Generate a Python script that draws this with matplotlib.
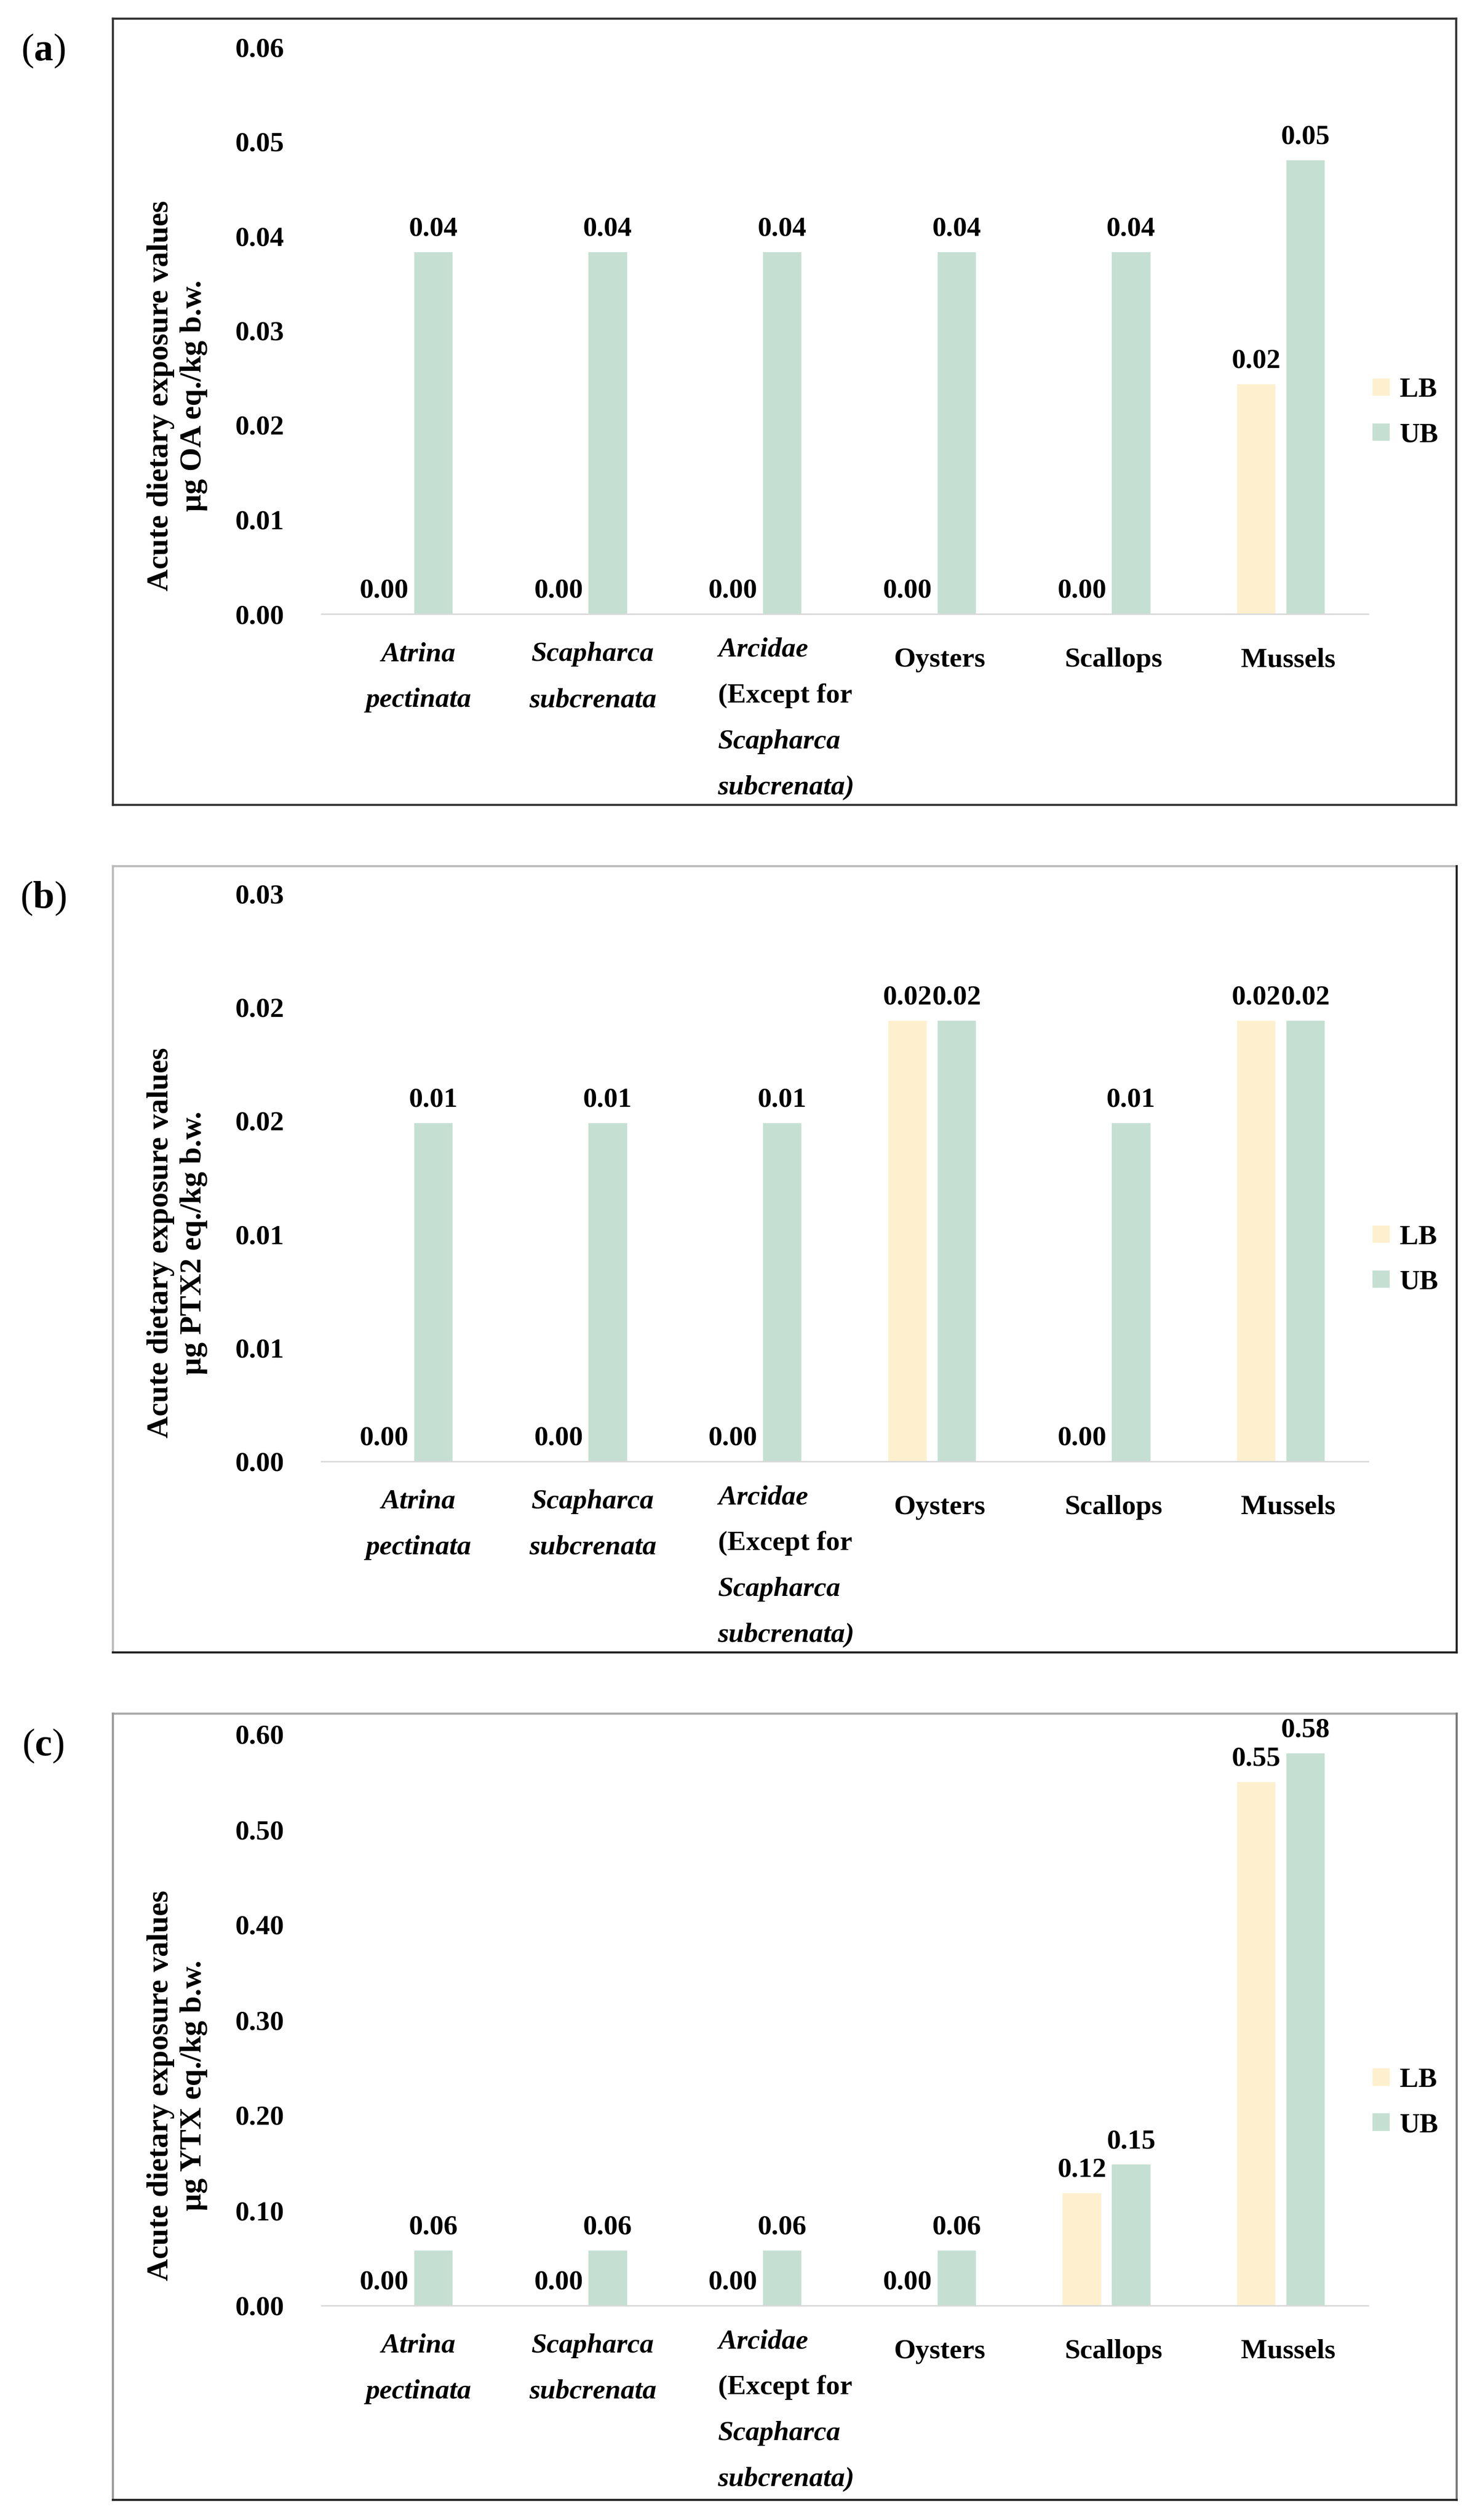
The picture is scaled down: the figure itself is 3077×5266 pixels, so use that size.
import matplotlib
matplotlib.use("Agg")
import matplotlib.pyplot as plt
from matplotlib.lines import Line2D
import numpy as np

plt.rcParams['font.family'] = ['Liberation Serif', 'DejaVu Serif']
plt.rcParams['mathtext.fontset'] = 'custom'
plt.rcParams['mathtext.rm'] = 'Liberation Serif'
plt.rcParams['mathtext.bf'] = 'Liberation Serif:bold'

# categories, each split in lines as (text, italic)
categories = ["Atrina pectinata", "Scapharca subcrenata",
              "Arcidae (Except for Scapharca subcrenata)",
              "Oysters", "Scallops", "Mussels"]
cat_lines = [
    [("Atrina", True), ("pectinata", True)],
    [("Scapharca", True), ("subcrenata", True)],
    [("Arcidae", True), ("(Except for", False), ("Scapharca", True), ("subcrenata)", True)],
    [("Oysters", False)],
    [("Scallops", False)],
    [("Mussels", False)],
]
series_names = ["LB", "UB"]

# (a) okadaic acid
oa_lb = [0.0, 0.0, 0.0, 0.0, 0.0, 0.0243]
oa_ub = [0.0383, 0.0383, 0.0383, 0.0383, 0.0383, 0.048]
oa_ticks = [0.0, 0.01, 0.02, 0.03, 0.04, 0.05, 0.06]
oa_ticklabels = ["0.00", "0.01", "0.02", "0.03", "0.04", "0.05", "0.06"]

# (b) pectenotoxin-2
ptx_lb = [0.0, 0.0, 0.0, 0.0194, 0.0, 0.0194]
ptx_ub = [0.0149, 0.0149, 0.0149, 0.0194, 0.0149, 0.0194]
ptx_ticks = [0.0, 0.005, 0.01, 0.015, 0.02, 0.025]
ptx_ticklabels = ["0.00", "0.01", "0.01", "0.02", "0.02", "0.03"]

# (c) yessotoxin
ytx_lb = [0.0, 0.0, 0.0, 0.0, 0.118, 0.55]
ytx_ub = [0.058, 0.058, 0.058, 0.058, 0.148, 0.58]
ytx_ticks = [0.0, 0.1, 0.2, 0.3, 0.4, 0.5, 0.6]
ytx_ticklabels = ["0.00", "0.10", "0.20", "0.30", "0.40", "0.50", "0.60"]

lb_color = '#FEF0CF'
ub_color = '#C5E0D3'

W, H = 3077, 5266
fig = plt.figure(figsize=(W / 100, H / 100), dpi=100)

panels = [
    dict(letter='a', lb=oa_lb, ub=oa_ub, ticks=oa_ticks, tlabels=oa_ticklabels,
         ylabel="Acute dietary exposure values\nµg OA eq./kg b.w.",
         ax_top=98, ax_bot=1283, box=(236, 39, 3044, 1682),
         edges=('#333333', '#333333', '#333333', '#333333')),
    dict(letter='b', lb=ptx_lb, ub=ptx_ub, ticks=ptx_ticks, tlabels=ptx_ticklabels,
         ylabel="Acute dietary exposure values\nµg PTX2 eq./kg b.w.",
         ax_top=1867, ax_bot=3054, box=(236, 1810, 3045, 3453),
         edges=('#BBBBBB', '#BBBBBB', '#222222', '#222222')),
    dict(letter='c', lb=ytx_lb, ub=ytx_ub, ticks=ytx_ticks, tlabels=ytx_ticklabels,
         ylabel="Acute dietary exposure values\nµg YTX eq./kg b.w.",
         ax_top=3624, ax_bot=4818, box=(236, 3581, 3045, 5224),
         edges=('#AAAAAA', '#999999', '#777777', '#222222')),
]

ax_left, ax_right = 672, 2860
fs = 42
x = np.arange(len(categories))
bw = 0.22
off = 0.141


def draw_box(left, top, right, bottom, colors, lw=3.2):
    # colors: top, left, right, bottom
    l, r = left / W, right / W
    t, b = 1 - top / H, 1 - bottom / H
    segs = [([l, r], [t, t]), ([l, l], [b, t]), ([r, r], [b, t]), ([l, r], [b, b])]
    for (xs, ys), c in zip(segs, colors):
        fig.add_artist(Line2D(xs, ys, transform=fig.transFigure, color=c, lw=lw,
                              solid_capstyle='projecting'))


for p in panels:
    ax = fig.add_axes([ax_left / W, 1 - p['ax_bot'] / H,
                       (ax_right - ax_left) / W, (p['ax_bot'] - p['ax_top']) / H])
    b1 = ax.bar(x - off, p['lb'], bw, color=lb_color, label=series_names[0], linewidth=0)
    b2 = ax.bar(x + off, p['ub'], bw, color=ub_color, label=series_names[1], linewidth=0)
    for cont, vals in ((b1, p['lb']), (b2, p['ub'])):
        ax.bar_label(cont, labels=[f"{v:.2f}" for v in vals], padding=16,
                     fontsize=fs, fontweight='bold')

    ax.set_xlim(-0.5, len(categories) - 0.5)
    ax.set_ylim(0, p['ticks'][-1])
    ax.set_yticks(p['ticks'])
    ax.set_yticklabels(p['tlabels'], fontsize=fs, fontweight='bold')
    ax.tick_params(axis='y', length=0, pad=56)
    ax.set_xticks([])
    for s in ('top', 'left', 'right'):
        ax.spines[s].set_visible(False)
    ax.spines['bottom'].set_color('#D9D9D9')
    ax.spines['bottom'].set_linewidth(2.2)

    # category labels
    for i, lines in enumerate(cat_lines):
        n = len(lines)
        if n == 4:
            first, ha, dx = 89, 'left', -83
        elif n == 2:
            first, ha, dx = 98, 'center', 20
        else:
            first, ha, dx = 110, 'center', 15
        for k, (txt, it) in enumerate(lines):
            ax.annotate(txt, xy=(i, 0), xycoords=('data', 'axes fraction'),
                        xytext=(dx, -(first + 96 * k)), textcoords='offset pixels',
                        ha=ha, va='baseline', fontsize=fs, fontweight='bold',
                        fontstyle='italic' if it else 'normal', annotation_clip=False)

    ax.set_ylabel(p['ylabel'], fontsize=46, fontweight='bold', linespacing=1.25)
    ax.yaxis.set_label_coords(-0.109, 0.385)

    ax.legend(loc='center left', bbox_to_anchor=(1.004, 0.355), frameon=False,
              prop=dict(size=fs, weight='bold'), handlelength=0.62, handleheight=0.58,
              handletextpad=0.36, labelspacing=0.72, borderpad=0, borderaxespad=0)

    bx = p['box']
    draw_box(*bx, p['edges'])
    fig.text(90 / W, 1 - (bx[1] + 68) / H, r"$\mathrm{(}\mathbf{%s}\mathrm{)}$" % p['letter'],
             fontsize=58, ha='center', va='center')

fig.savefig("out.png", dpi=100, facecolor='white')
